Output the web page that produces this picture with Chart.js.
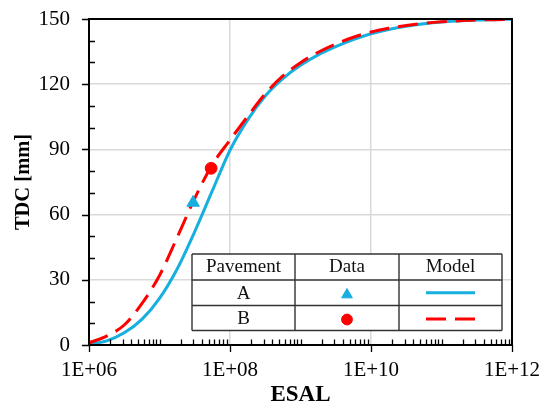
<!DOCTYPE html>
<html>
<head>
<meta charset="utf-8">
<script src="https://cdn.jsdelivr.net/npm/chart.js@4.4.1/dist/chart.umd.min.js"></script>
<style>
  html, body { margin: 0; padding: 0; background: #ffffff; }
  #wrap { width: 539px; height: 405px; }
</style>
</head>
<body>
<div id="wrap"><canvas id="tdcChart" width="539" height="405"></canvas></div>
<script>
// Traffic axis (ESAL) sample points used by both model curves
const esal = [1.00e6, 1.78e6, 3.16e6, 5.62e6, 1.00e7, 1.78e7, 3.16e7, 5.62e7, 1.00e8,
              1.78e8, 3.16e8, 5.62e8, 1.00e9, 1.78e9, 3.16e9, 5.62e9, 1.00e10,
              1.78e10, 3.16e10, 5.62e10, 1.00e11, 1.78e11, 3.16e11, 5.62e11, 1.00e12];
// Model TDC [mm] for pavement A and B
const modelA = [0.3, 1.9, 5.6, 11.8, 21.5, 35.0, 52.2, 71.0, 89.6,
                103.6, 114.6, 122.6, 128.7, 133.5, 137.3, 140.5, 143.2,
                145.2, 146.7, 147.8, 148.6, 149.1, 149.5, 149.7, 149.9];
const modelB = [1.0, 4.1, 9.2, 19.0, 32.0, 49.5, 67.5, 83.0, 94.3,
                105.2, 115.6, 123.8, 129.9, 134.7, 138.5, 141.6, 144.0,
                145.7, 147.0, 148.0, 148.7, 149.2, 149.5, 149.7, 149.9];
// Measured points
const pavements = ['A', 'B'];
const measuredEsal = [3.0e7, 5.4e7];
const measuredTdc = [65.5, 81.3];
// Axis ticks
const xTickValues = [1e6, 1e8, 1e10, 1e12];
const xTickLabels = ['1E+06', '1E+08', '1E+10', '1E+12'];
const yTickValues = [0, 30, 60, 90, 120, 150];
const yMinorValues = [10, 20, 40, 50, 70, 80, 100, 110, 130, 140];

const BLUE = '#17AEE0';
const RED = '#FF0000';
const SERIF = '"Liberation Serif", "Times New Roman", serif';

const toXY = (xs, ys) => xs.map((x, i) => ({ x: x, y: ys[i] }));

// x-axis minor ticks: 2..9 within each decade plus the unlabelled odd decades
const xMinorValues = [];
for (let k = 6; k < 12; k++) {
  for (let m = 1; m <= 9; m++) {
    if (m === 1 && k % 2 === 0) continue;
    xMinorValues.push(m * Math.pow(10, k));
  }
}

// Frame, tick marks and the legend table
const decorations = {
  id: 'decorations',
  afterDraw(chart) {
    const { ctx, chartArea: ca, scales } = chart;
    const xs = scales.x, ys = scales.y;
    ctx.save();
    ctx.strokeStyle = '#000';
    ctx.lineWidth = 1.3;
    ctx.beginPath();
    xMinorValues.forEach(v => {
      const px = Math.round(xs.getPixelForValue(v)) + 0.5;
      ctx.moveTo(px, ca.bottom); ctx.lineTo(px, ca.bottom - 5.5);
    });
    xTickValues.forEach(v => {
      const px = Math.round(xs.getPixelForValue(v)) + 0.5;
      ctx.moveTo(px, ca.bottom); ctx.lineTo(px, ca.bottom + 7);
    });
    yMinorValues.forEach(v => {
      const py = Math.round(ys.getPixelForValue(v)) + 0.5;
      ctx.moveTo(ca.left, py); ctx.lineTo(ca.left + 6, py);
    });
    yTickValues.forEach(v => {
      const py = Math.round(ys.getPixelForValue(v)) + 0.5;
      ctx.moveTo(ca.left - 7, py); ctx.lineTo(ca.left, py);
    });
    ctx.stroke();

    ctx.lineWidth = 2;
    ctx.strokeRect(ca.left, ca.top, ca.right - ca.left, ca.bottom - ca.top);

    // legend table
    const cols = [ca.left + 103, ca.left + 206, ca.left + 310, ca.left + 413];
    const rows = [ca.top + 235, ca.top + 261, ca.top + 286.5, ca.top + 311.5];
    ctx.fillStyle = '#fff';
    ctx.fillRect(cols[0], rows[0], cols[3] - cols[0], rows[3] - rows[0]);
    ctx.strokeStyle = '#333';
    ctx.lineWidth = 1.4;
    ctx.beginPath();
    rows.forEach(r => { ctx.moveTo(cols[0], r); ctx.lineTo(cols[3], r); });
    cols.forEach(c => { ctx.moveTo(c, rows[0]); ctx.lineTo(c, rows[3]); });
    ctx.stroke();

    const cx = i => (cols[i] + cols[i + 1]) / 2;
    const cy = j => (rows[j] + rows[j + 1]) / 2;
    ctx.fillStyle = '#111';
    ctx.font = '19px ' + SERIF;
    ctx.textAlign = 'center';
    ctx.textBaseline = 'middle';
    ctx.fillText('Pavement', cx(0), cy(0) + 0.5);
    ctx.fillText('Data', cx(1), cy(0) + 0.5);
    ctx.fillText('Model', cx(2), cy(0) + 0.5);
    ctx.fillText(pavements[0], cx(0), cy(1) + 1);
    ctx.fillText(pavements[1], cx(0), cy(2) + 1.5);

    ctx.fillStyle = BLUE; ctx.strokeStyle = BLUE; ctx.lineWidth = 1;
    Chart.helpers.drawPoint(ctx, { pointStyle: 'triangle', radius: 6.2, rotation: 0, borderWidth: 1 }, cx(1), cy(1) + 2);
    ctx.fillStyle = RED; ctx.strokeStyle = RED;
    Chart.helpers.drawPoint(ctx, { pointStyle: 'circle', radius: 5.4, rotation: 0, borderWidth: 1 }, cx(1), cy(2) + 1.5);

    ctx.lineWidth = 3;
    ctx.strokeStyle = BLUE;
    ctx.beginPath();
    ctx.moveTo(cx(2) - 24.5, cy(1)); ctx.lineTo(cx(2) + 24.5, cy(1));
    ctx.stroke();
    ctx.strokeStyle = RED;
    ctx.setLineDash([20, 9]);
    ctx.beginPath();
    ctx.moveTo(cx(2) - 24.5, cy(2) + 1); ctx.lineTo(cx(2) + 24.5, cy(2) + 1);
    ctx.stroke();
    ctx.restore();
  }
};

new Chart(document.getElementById('tdcChart'), {
  type: 'scatter',
  data: {
    datasets: [
      {
        label: 'A data',
        data: [{ x: measuredEsal[0], y: measuredTdc[0] }],
        pointStyle: 'triangle',
        pointRadius: 7.2,
        pointBorderWidth: 1,
        backgroundColor: BLUE,
        borderColor: BLUE,
        order: 0
      },
      {
        label: 'B data',
        data: [{ x: measuredEsal[1], y: measuredTdc[1] }],
        pointStyle: 'circle',
        pointRadius: 5.9,
        pointBorderWidth: 1,
        backgroundColor: RED,
        borderColor: RED,
        order: 0
      },
      {
        label: 'B model',
        type: 'line',
        data: toXY(esal, modelB),
        borderColor: RED,
        borderWidth: 3,
        borderDash: [20, 9],
        pointRadius: 0,
        fill: false,
        cubicInterpolationMode: 'monotone',
        order: 1
      },
      {
        label: 'A model',
        type: 'line',
        data: toXY(esal, modelA),
        borderColor: BLUE,
        borderWidth: 3,
        pointRadius: 0,
        fill: false,
        cubicInterpolationMode: 'monotone',
        order: 2
      }
    ]
  },
  options: {
    responsive: false,
    animation: false,
    devicePixelRatio: 1,
    layout: { padding: { left: 0, top: 19, right: 27, bottom: 0 } },
    plugins: { legend: { display: false }, tooltip: { enabled: false } },
    scales: {
      x: {
        type: 'logarithmic',
        min: 1e6,
        max: 1e12,
        afterBuildTicks: s => { s.ticks = xTickValues.map(v => ({ value: v })); },
        afterFit: s => { s.height = 60; s.paddingLeft = 0; s.paddingRight = 0; },
        ticks: {
          autoSkip: false,
          maxRotation: 0,
          padding: 13,
          color: '#000',
          font: { family: SERIF, size: 21 },
          callback: (v, i) => xTickLabels[i]
        },
        grid: {
          drawTicks: false,
          lineWidth: 1.5,
          color: c => (c.tick && (c.tick.value === 1e6 || c.tick.value === 1e12)) ? 'rgba(0,0,0,0)' : '#d9d9d9'
        },
        border: { display: false },
        title: {
          display: true,
          text: 'ESAL',
          color: '#000',
          font: { family: SERIF, size: 23, weight: 'bold', lineHeight: 0.8 },
          padding: { top: 0, bottom: 1 }
        }
      },
      y: {
        min: 0,
        max: 150,
        afterBuildTicks: s => { s.ticks = yTickValues.map(v => ({ value: v })); },
        afterFit: s => { s.width = 89; s.paddingTop = 0; s.paddingBottom = 0; },
        ticks: {
          padding: 19,
          color: '#000',
          font: { family: SERIF, size: 21 }
        },
        grid: {
          drawTicks: false,
          lineWidth: 1.5,
          color: c => (c.tick && (c.tick.value === 0 || c.tick.value === 150)) ? 'rgba(0,0,0,0)' : '#d9d9d9'
        },
        border: { display: false },
        title: {
          display: true,
          text: 'TDC [mm]',
          color: '#000',
          font: { family: SERIF, size: 20.5, weight: 'bold', lineHeight: 1 },
          padding: { top: 13, bottom: 0 }
        }
      }
    }
  },
  plugins: [decorations]
});
</script>
</body>
</html>
